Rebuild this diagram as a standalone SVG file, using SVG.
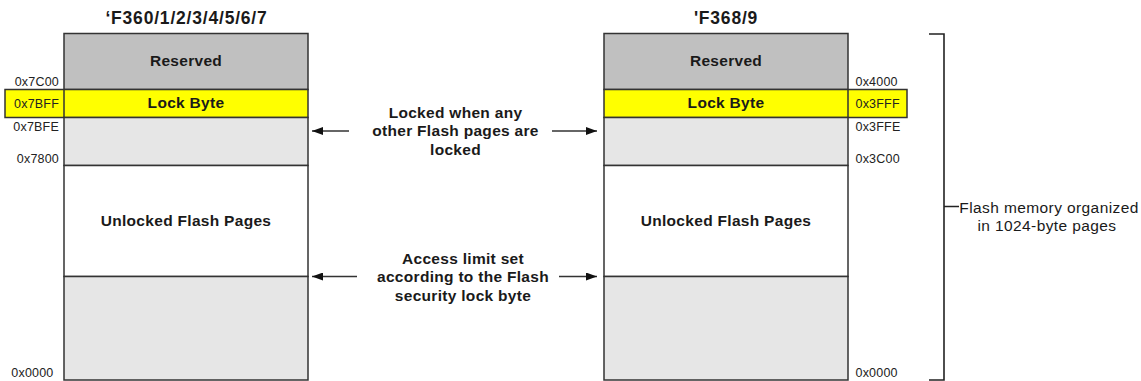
<svg xmlns="http://www.w3.org/2000/svg" width="1141" height="381" viewBox="0 0 1141 381">
<defs>
<style>
.box{stroke:#333;stroke-width:1.5}
.res{fill:#c0c0c0}
.lock{fill:#ffff00}
.lg{fill:#e6e6e6}
.wh{fill:#ffffff}
.bt{font-family:"Liberation Sans",Arial,sans-serif;font-weight:bold;font-size:15.5px;letter-spacing:0.3px;fill:#1a1a1a;text-anchor:middle}
.title{font-family:"Liberation Sans",Arial,sans-serif;font-weight:bold;font-size:17.5px;letter-spacing:0.8px;fill:#1a1a1a;text-anchor:middle}
.addr{font-family:"Liberation Sans",Arial,sans-serif;font-size:12.5px;letter-spacing:0.2px;fill:#222}
.note{font-family:"Liberation Sans",Arial,sans-serif;font-size:15.5px;letter-spacing:0.4px;fill:#1a1a1a;text-anchor:middle}
.conn{stroke:#333;stroke-width:1.3;fill:none}
</style>
<marker id="ah" viewBox="0 0 11 8" refX="11" refY="4" markerWidth="11" markerHeight="8" markerUnits="userSpaceOnUse" orient="auto">
<path d="M0,0 L11,4 L0,8 Z" fill="#111"/>
</marker>
</defs>
<rect width="1141" height="381" fill="#fff"/>

<g id="left-title"><text class="title" x="186.5" y="24">‘F360/1/2/3/4/5/6/7</text></g>
<g id="right-title"><text class="title" x="726" y="24">'F368/9</text></g>

<g id="left-reserved"><rect class="box res" x="64" y="33.5" width="244" height="56"/><text class="bt" x="186" y="66">Reserved</text></g>
<g id="left-lockbyte"><rect class="box lock" x="5" y="89.5" width="303" height="28"/><line class="box" x1="64" y1="89.5" x2="64" y2="117.5"/><text class="bt" x="186" y="108">Lock Byte</text><text class="addr" x="59" y="108" text-anchor="end">0x7BFF</text></g>
<g id="left-lockpage"><rect class="box lg" x="64" y="117.5" width="244" height="48"/></g>
<g id="left-unlocked"><rect class="box wh" x="64" y="165.5" width="244" height="111"/><text class="bt" x="186" y="226">Unlocked Flash Pages</text></g>
<g id="left-limited"><rect class="box lg" x="64" y="276.5" width="244" height="103.5"/></g>
<g id="left-addresses">
<text class="addr" x="59" y="86" text-anchor="end">0x7C00</text>
<text class="addr" x="59" y="131" text-anchor="end">0x7BFE</text>
<text class="addr" x="59" y="163" text-anchor="end">0x7800</text>
<text class="addr" x="53.5" y="377" text-anchor="end">0x0000</text>
</g>

<g id="right-reserved"><rect class="box res" x="604" y="33.5" width="244" height="56"/><text class="bt" x="726" y="66">Reserved</text></g>
<g id="right-lockbyte"><rect class="box lock" x="604" y="89.5" width="303" height="28"/><line class="box" x1="848" y1="89.5" x2="848" y2="117.5"/><text class="bt" x="726" y="108">Lock Byte</text><text class="addr" x="855.5" y="108">0x3FFF</text></g>
<g id="right-lockpage"><rect class="box lg" x="604" y="117.5" width="244" height="48"/></g>
<g id="right-unlocked"><rect class="box wh" x="604" y="165.5" width="244" height="111"/><text class="bt" x="726" y="226">Unlocked Flash Pages</text></g>
<g id="right-limited"><rect class="box lg" x="604" y="276.5" width="244" height="103.5"/></g>
<g id="right-addresses">
<text class="addr" x="855.5" y="86">0x4000</text>
<text class="addr" x="855.5" y="131">0x3FFE</text>
<text class="addr" x="855.5" y="163">0x3C00</text>
<text class="addr" x="855.5" y="377">0x0000</text>
</g>

<g id="note-locked">
<text class="bt" x="455.5" y="117.5">Locked when any</text>
<text class="bt" x="455.5" y="136">other Flash pages are</text>
<text class="bt" x="455.5" y="154.5">locked</text>
</g>
<g id="note-access">
<text class="bt" x="463" y="263.5">Access limit set</text>
<text class="bt" x="463" y="282">according to the Flash</text>
<text class="bt" x="463" y="300.5">security lock byte</text>
</g>
<g id="note-flash">
<text class="note" x="1049" y="212.5">Flash memory organized</text>
<text class="note" x="1047" y="230.5">in 1024-byte pages</text>
</g>

<g id="connectors">
<line class="conn" x1="349" y1="131" x2="312" y2="131" marker-end="url(#ah)"/>
<line class="conn" x1="552" y1="131" x2="597" y2="131" marker-end="url(#ah)"/>
<line class="conn" x1="357" y1="276.5" x2="312" y2="276.5" marker-end="url(#ah)"/>
<line class="conn" x1="559" y1="276.5" x2="597" y2="276.5" marker-end="url(#ah)"/>
<path d="M929,34 H944 V380 H929 M944,206.5 H959" fill="none" stroke="#222" stroke-width="1.6"/>
</g>
</svg>
